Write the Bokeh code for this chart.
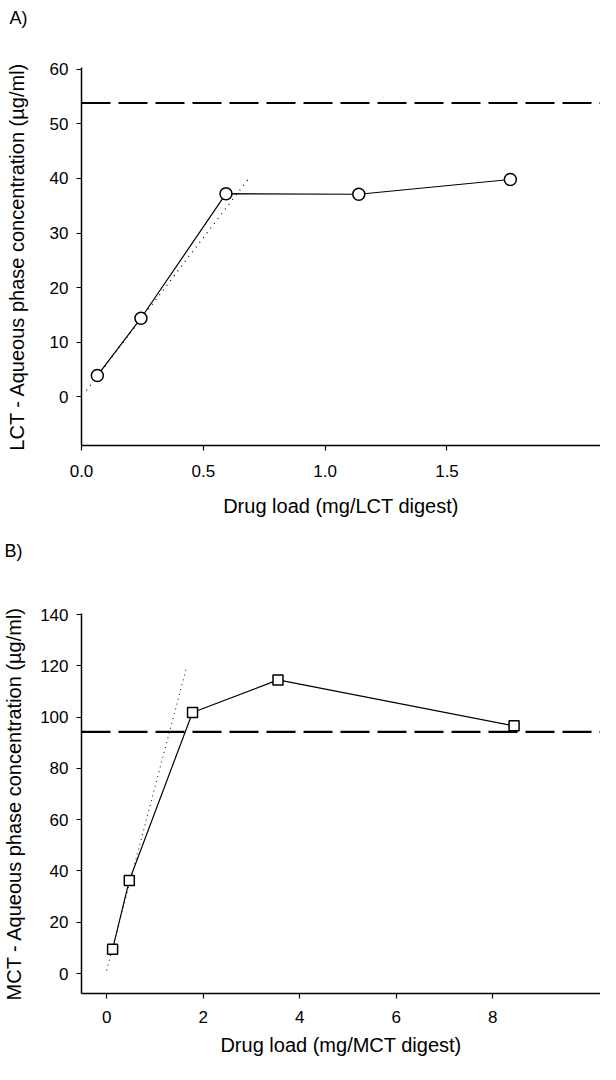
from bokeh.plotting import figure
from bokeh.layouts import column
from bokeh.models import Span, FixedTicker, NumeralTickFormatter, Title
from bokeh.embed import file_html
from bokeh.resources import INLINE

# ---- Panel A (LCT) ----
lct_load = [0.065, 0.244, 0.593, 1.138, 1.76]
lct_conc = [3.9, 14.4, 37.2, 37.1, 39.8]
lct_solubility = 53.8
lct_fit_x = [0.02, 0.69]
lct_fit_y = [1.2, 40.2]
lct_xticks = [0.0, 0.5, 1.0, 1.5]
lct_yticks = [0, 10, 20, 30, 40, 50, 60]

# ---- Panel B (MCT) ----
mct_load = [0.124, 0.47, 1.78, 3.55, 8.44]
mct_conc = [9.5, 36.3, 101.8, 114.5, 96.6]
mct_solubility = 94.2
mct_fit_x = [0.0, 1.66]
mct_fit_y = [1.2, 119.7]
mct_xticks = [0, 2, 4, 6, 8]
mct_yticks = [0, 20, 40, 60, 80, 100, 120, 140]

FONT = "Liberation Sans"


def style(p, xticks, yticks, ylab_standoff, xlab_standoff, xtick_standoff):
    p.outline_line_color = None
    p.xgrid.visible = False
    p.ygrid.visible = False
    for ax in (p.xaxis[0], p.yaxis[0]):
        ax.axis_line_width = 1.5
        ax.axis_line_color = "black"
        ax.major_tick_line_color = "black"
        ax.major_tick_line_width = 1.2
        ax.major_tick_out = 5
        ax.major_tick_in = 0
        ax.minor_tick_line_color = None
        ax.major_label_text_font = FONT
        ax.major_label_text_font_size = "17px"
        ax.major_label_text_color = "black"
        ax.axis_label_text_font = FONT
        ax.axis_label_text_font_size = "20px"
        ax.axis_label_text_font_style = "normal"
        ax.axis_label_text_color = "black"
    p.xaxis[0].ticker = FixedTicker(ticks=xticks)
    p.yaxis[0].ticker = FixedTicker(ticks=yticks)
    p.xaxis[0].major_label_standoff = xtick_standoff
    p.xaxis[0].axis_label_standoff = xlab_standoff
    p.yaxis[0].major_label_standoff = 8
    p.yaxis[0].axis_label_standoff = ylab_standoff


def panel_title(p, text, offset, spacer_standoff, top_standoff):
    # inner spacer (next to the frame), then the panel letter on top
    p.add_layout(Title(text=" ", text_font=FONT, text_font_size="18px",
                       standoff=spacer_standoff), "above")
    p.add_layout(Title(text=text, text_font=FONT, text_font_size="18px",
                       text_font_style="normal", text_color="black",
                       align="left", offset=offset, vertical_align="top",
                       standoff=top_standoff), "above")


# Panel A  (frame: 378 px high)
pa = figure(width=600, height=527, output_backend="svg", toolbar_location=None,
            x_range=(0.0, 2.13), y_range=(-8.9, 60.3), title=None,
            x_axis_label="Drug load (mg/LCT digest)",
            y_axis_label="LCT - Aqueous phase concentration (µg/ml)",
            min_border_left=76, min_border_right=0, min_border_top=67,
            min_border_bottom=82)
style(pa, lct_xticks, lct_yticks, 19, 15, 14)
pa.xaxis[0].formatter = NumeralTickFormatter(format="0.0")
panel_title(pa, "A)", -72, 11, 10)
pa.add_layout(Span(location=lct_solubility, dimension="width", line_color="black",
                   line_width=2.2, line_dash="29 8"))
pa.line(lct_fit_x, lct_fit_y, line_color="black", line_width=1.2, line_dash="1 5")
pa.line(lct_load, lct_conc, line_color="black", line_width=1.2)
pa.scatter(lct_load, lct_conc, marker="circle", size=12, fill_color="white",
           line_color="black", line_width=1.5)

# Panel B  (frame: 380 px high)
pb = figure(width=600, height=537, output_backend="svg", toolbar_location=None,
            x_range=(-0.52, 10.23), y_range=(-7.8, 140.4), title=None,
            x_axis_label="Drug load (mg/MCT digest)",
            y_axis_label="MCT - Aqueous phase concentration (µg/ml)",
            min_border_left=81, min_border_right=0, min_border_top=86,
            min_border_bottom=71)
style(pb, mct_xticks, mct_yticks, 12, 8, 12)
panel_title(pb, "B)", -77, 18, 22)
pb.add_layout(Span(location=mct_solubility, dimension="width", line_color="black",
                   line_width=2.2, line_dash="29 8"))
pb.line(mct_fit_x, mct_fit_y, line_color="black", line_width=1.0, line_dash="1 4")
pb.line(mct_load, mct_conc, line_color="black", line_width=1.2)
pb.scatter(mct_load, mct_conc, marker="square", size=10, fill_color="white",
           line_color="black", line_width=1.5)

layout = column(pa, pb, spacing=0)
open("out.html", "w").write(file_html(layout, INLINE))
